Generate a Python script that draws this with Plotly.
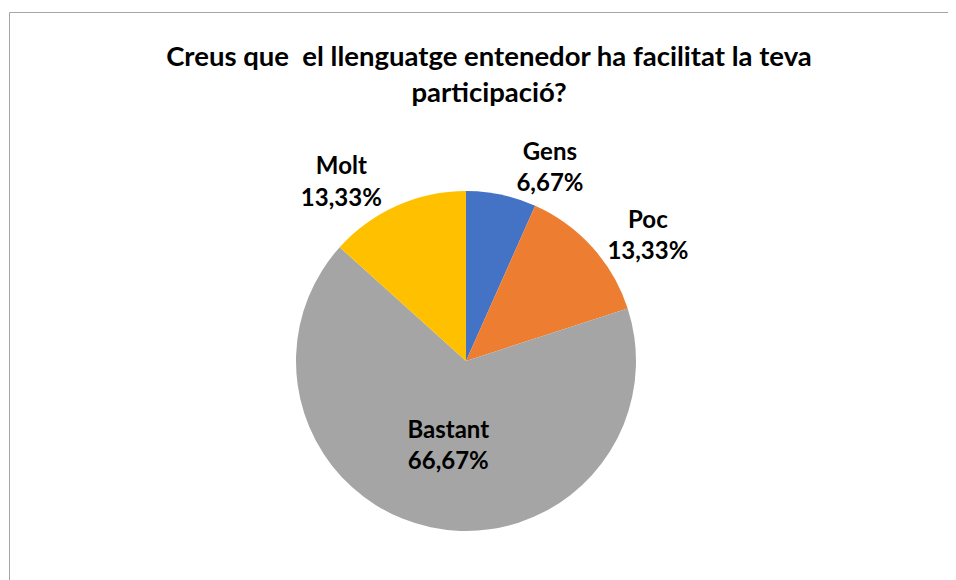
import plotly.graph_objects as go

labels = ["Gens", "Poc", "Bastant", "Molt"]
values = [6.67, 13.33, 66.67, 13.33]
colors = ["#4472C4", "#ED7D31", "#A5A5A5", "#FFC000"]
text_pos = ["outside", "outside", "inside", "outside"]

# page body keeps an 8px margin, so the figure is drawn 8px smaller
W, H = 948, 572
cx, cy, r = 458, 353, 170

fig = go.Figure()

fig.add_trace(
    go.Pie(
        labels=labels,
        values=values,
        sort=False,
        direction="clockwise",
        rotation=0,
        marker=dict(colors=colors, line=dict(width=0)),
        textposition=text_pos,
        texttemplate="<b>%{label}</b><br><b>%{percent:.2%}</b>",
        textfont=dict(family="Lato", size=24, color="black"),
        insidetextorientation="horizontal",
        showlegend=False,
        hoverinfo="label+percent",
        domain=dict(
            x=[(cx - r) / W, (cx + r) / W],
            y=[1 - (cy + r) / H, 1 - (cy - r) / H],
        ),
    )
)

fig.update_layout(
    width=W,
    height=H,
    separators=", ",
    margin=dict(l=0, r=0, t=0, b=0),
    paper_bgcolor="white",
    plot_bgcolor="white",
    title=dict(
        text="<b>Creus que  el llenguatge entenedor ha facilitat la teva</b><br><b>participació?</b>",
        x=481 / W,
        xanchor="center",
        y=1 - 58 / H,
        yanchor="top",
        font=dict(family="Lato", size=27.5, color="black"),
    ),
    # light grey outer frame, left and top edges visible
    shapes=[
        dict(
            type="rect",
            xref="paper",
            yref="paper",
            x0=1.5 / W,
            x1=1.02,
            y0=-0.02,
            y1=1 - 4.5 / H,
            line=dict(color="#A6A6A6", width=1),
        )
    ],
)

fig.write_html("out.html")
